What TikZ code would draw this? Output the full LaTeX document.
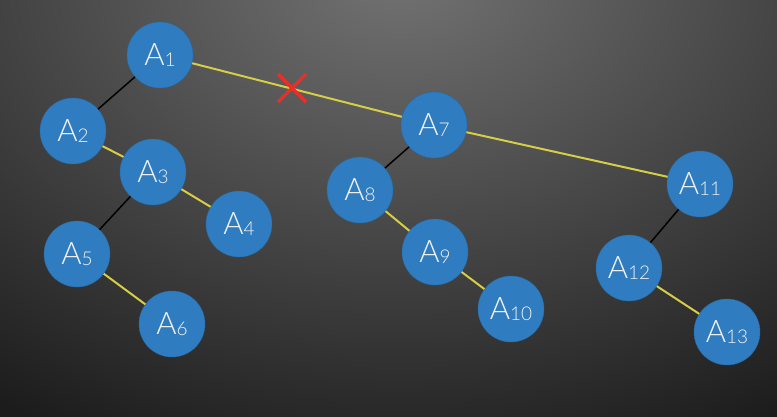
\documentclass[tikz,border=0pt]{standalone}
\usepackage{fontspec}
\setmainfont{Lato Light}
\usetikzlibrary{shapes.misc}
\definecolor{nodeblue}{RGB}{47,125,192}
\definecolor{edgeyellow}{RGB}{214,206,70}
\definecolor{crossred}{RGB}{232,48,40}
\definecolor{bgdark}{RGB}{28,28,28}
\newcommand\albl[1]{A\raisebox{-1pt}{\fontsize{19}{19}\selectfont #1}}

\begin{document}
\begin{tikzpicture}[x=1pt,y=-1pt,
  vert/.style={circle, fill=nodeblue, draw=nodeblue!85!black, thin, minimum size=66pt, inner sep=0pt, text=white!95!black, font=\fontsize{31}{31}\selectfont},
  tree/.style={line width=1.5pt, black},
  link/.style={line width=2pt, edgeyellow}]
  \useasboundingbox (0,0) rectangle (777,416);
  \begin{scope}
    \clip (-5,-5) rectangle (782,421);
    \fill[bgdark] (-5,-5) rectangle (782,421);
    \shade[inner color={rgb,255:red,115;green,115;blue,115}, outer color=bgdark] (400,-30) ellipse (720pt and 520pt);
  \end{scope}
  \node[vert] (a1) at (160,55) {\albl{1}};
  \node[vert] (a2) at (73,131) {\albl{2}};
  \node[vert] (a3) at (153,172) {\albl{3}};
  \node[vert] (a4) at (239,224) {\albl{4}};
  \node[vert] (a5) at (77,254) {\albl{5}};
  \node[vert] (a6) at (172,324) {\albl{6}};
  \node[vert] (a7) at (434,125) {\albl{7}};
  \node[vert] (a8) at (360,190) {\albl{8}};
  \node[vert] (a9) at (435,252) {\albl{9}};
  \node[vert] (a10) at (511,309) {\albl{10}};
  \node[vert] (a11) at (700,184) {\albl{11}};
  \node[vert] (a12) at (629,268) {\albl{12}};
  \node[vert] (a13) at (727,332) {\albl{13}};
  \path
  (a1) edge[tree] (a2)
  edge[link] (a7)
  (a2) edge[link] (a3)
  (a3) edge[link] (a4)
  edge[tree] (a5)
  (a5) edge[link] (a6)
  (a7) edge[tree] (a8)
  edge[link] (a11)
  (a8) edge[link] (a9)
  (a9) edge[link] (a10)
  (a11) edge[tree] (a12)
  (a12) edge[link] (a13)
  ;
  \node[cross out, draw=crossred, line width=3.2pt, minimum size=25pt, inner sep=0pt] (cut) at (292,88) {};
\end{tikzpicture}
\end{document}
